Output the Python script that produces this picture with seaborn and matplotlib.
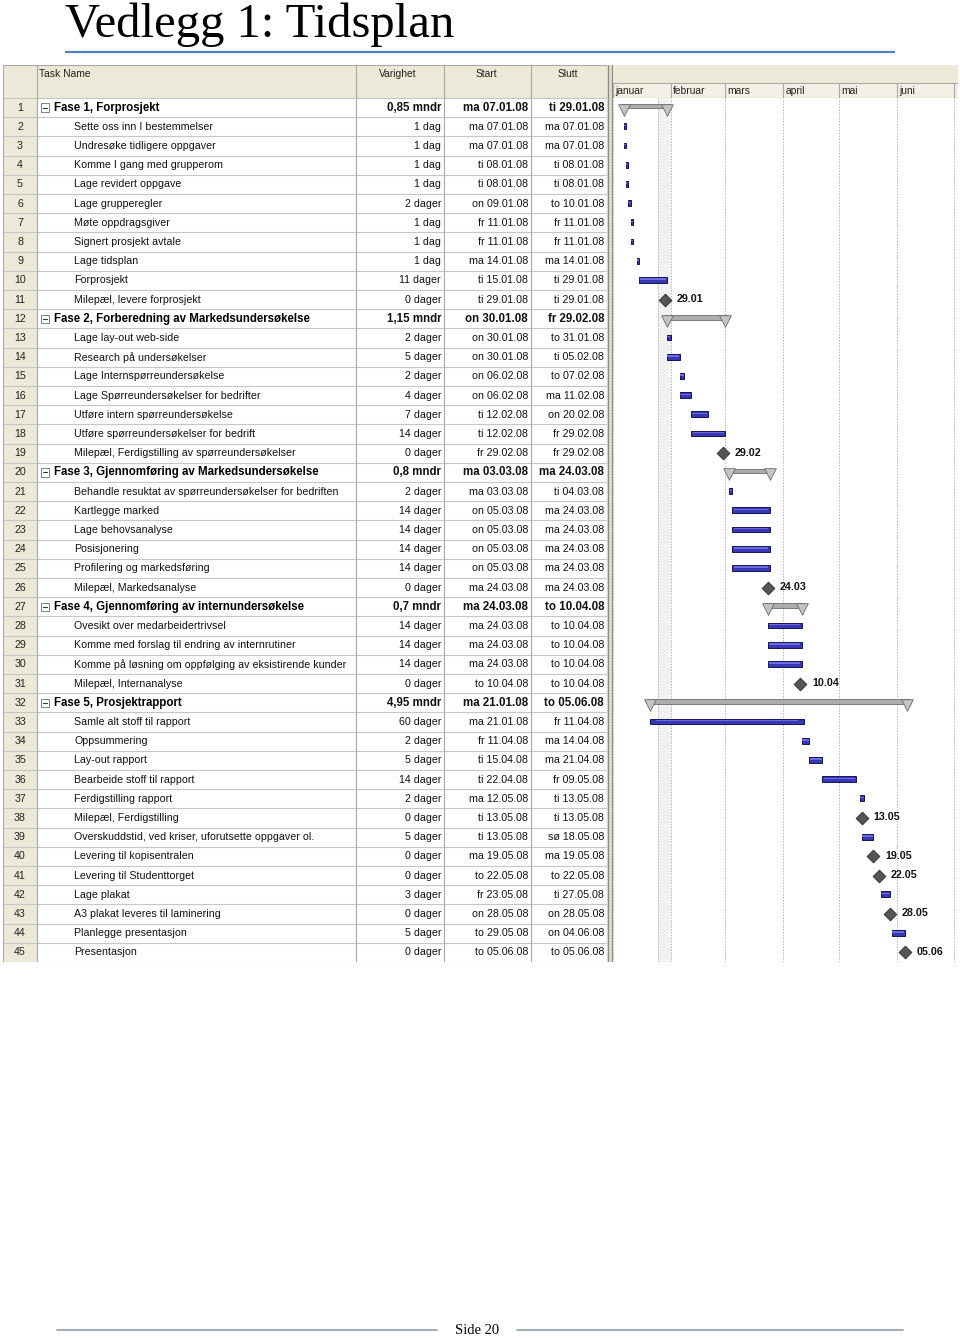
import matplotlib
matplotlib.use("Agg")
import matplotlib.pyplot as plt
import numpy as np
import pandas as pd
import seaborn as sns
from matplotlib.patches import Rectangle

# ---------------- data ----------------
title = "Vedlegg 1: Tidsplan"
page_label = "Side 20"
column_headers = ["Task Name", "Varighet", "Start", "Slutt"]
month_labels = ["januar", "februar", "mars", "april", "mai", "juni"]
month_starts = ["2008-01-01", "2008-02-01", "2008-03-01", "2008-04-01",
                "2008-05-01", "2008-06-01", "2008-07-01"]
status_band = ["2008-01-25", "2008-02-01"]

task_names = [
    "Fase 1, Forprosjekt",
    "Sette oss inn I bestemmelser",
    "Undresøke tidligere oppgaver",
    "Komme I gang med grupperom",
    "Lage revidert oppgave",
    "Lage grupperegler",
    "Møte oppdragsgiver",
    "Signert prosjekt avtale",
    "Lage tidsplan",
    "Forprosjekt",
    "Milepæl, levere forprosjekt",
    "Fase 2, Forberedning av Markedsundersøkelse",
    "Lage lay-out web-side",
    "Research på undersøkelser",
    "Lage Internspørreundersøkelse",
    "Lage Spørreundersøkelser for bedrifter",
    "Utføre intern spørreundersøkelse",
    "Utføre spørreundersøkelser for bedrift",
    "Milepæl, Ferdigstilling av spørreundersøkelser",
    "Fase 3, Gjennomføring av Markedsundersøkelse",
    "Behandle resuktat av spørreundersøkelser for bedriften",
    "Kartlegge marked",
    "Lage behovsanalyse",
    "Posisjonering",
    "Profilering og markedsføring",
    "Milepæl, Markedsanalyse",
    "Fase 4, Gjennomføring av internundersøkelse",
    "Ovesikt over medarbeidertrivsel",
    "Komme med forslag til endring av internrutiner",
    "Komme på løsning om oppfølging av eksistirende kunder",
    "Milepæl, Internanalyse",
    "Fase 5, Prosjektrapport",
    "Samle alt stoff til rapport",
    "Oppsummering",
    "Lay-out rapport",
    "Bearbeide stoff til rapport",
    "Ferdigstilling rapport",
    "Milepæl, Ferdigstilling",
    "Overskuddstid, ved kriser, uforutsette oppgaver ol.",
    "Levering til kopisentralen",
    "Levering til Studenttorget",
    "Lage plakat",
    "A3 plakat leveres til laminering",
    "Planlegge presentasjon",
    "Presentasjon",
]

durations = [
    "0,85 mndr", "1 dag", "1 dag", "1 dag", "1 dag", "2 dager", "1 dag", "1 dag",
    "1 dag", "11 dager", "0 dager",
    "1,15 mndr", "2 dager", "5 dager", "2 dager", "4 dager", "7 dager", "14 dager",
    "0 dager",
    "0,8 mndr", "2 dager", "14 dager", "14 dager", "14 dager", "14 dager", "0 dager",
    "0,7 mndr", "14 dager", "14 dager", "14 dager", "0 dager",
    "4,95 mndr", "60 dager", "2 dager", "5 dager", "14 dager", "2 dager", "0 dager",
    "5 dager", "0 dager", "0 dager", "3 dager", "0 dager", "5 dager", "0 dager",
]

start_dates = [
    "ma 07.01.08", "ma 07.01.08", "ma 07.01.08", "ti 08.01.08", "ti 08.01.08",
    "on 09.01.08", "fr 11.01.08", "fr 11.01.08", "ma 14.01.08", "ti 15.01.08",
    "ti 29.01.08",
    "on 30.01.08", "on 30.01.08", "on 30.01.08", "on 06.02.08", "on 06.02.08",
    "ti 12.02.08", "ti 12.02.08", "fr 29.02.08",
    "ma 03.03.08", "ma 03.03.08", "on 05.03.08", "on 05.03.08", "on 05.03.08",
    "on 05.03.08", "ma 24.03.08",
    "ma 24.03.08", "ma 24.03.08", "ma 24.03.08", "ma 24.03.08", "to 10.04.08",
    "ma 21.01.08", "ma 21.01.08", "fr 11.04.08", "ti 15.04.08", "ti 22.04.08",
    "ma 12.05.08", "ti 13.05.08", "ti 13.05.08", "ma 19.05.08", "to 22.05.08",
    "fr 23.05.08", "on 28.05.08", "to 29.05.08", "to 05.06.08",
]

finish_dates = [
    "ti 29.01.08", "ma 07.01.08", "ma 07.01.08", "ti 08.01.08", "ti 08.01.08",
    "to 10.01.08", "fr 11.01.08", "fr 11.01.08", "ma 14.01.08", "ti 29.01.08",
    "ti 29.01.08",
    "fr 29.02.08", "to 31.01.08", "ti 05.02.08", "to 07.02.08", "ma 11.02.08",
    "on 20.02.08", "fr 29.02.08", "fr 29.02.08",
    "ma 24.03.08", "ti 04.03.08", "ma 24.03.08", "ma 24.03.08", "ma 24.03.08",
    "ma 24.03.08", "ma 24.03.08",
    "to 10.04.08", "to 10.04.08", "to 10.04.08", "to 10.04.08", "to 10.04.08",
    "to 05.06.08", "fr 11.04.08", "ma 14.04.08", "ma 21.04.08", "fr 09.05.08",
    "ti 13.05.08", "ti 13.05.08", "sø 18.05.08", "ma 19.05.08", "to 22.05.08",
    "ti 27.05.08", "on 28.05.08", "on 04.06.08", "to 05.06.08",
]

# ---------------- derived table ----------------
origin = pd.Timestamp("2008-01-01")


def to_day(s):
    d = pd.to_datetime(s.split()[-1], format="%d.%m.%y")
    return (d - origin).days


def iso_day(s):
    return (pd.Timestamp(s) - origin).days


df = pd.DataFrame({
    "row": np.arange(1, len(task_names) + 1),
    "name": task_names,
    "dur": durations,
    "start_txt": start_dates,
    "finish_txt": finish_dates,
})
df["start"] = df["start_txt"].map(to_day)
df["end"] = df["finish_txt"].map(to_day) + 1
df["kind"] = np.where(df["dur"].str.contains("mndr"), "summary",
                      np.where(df["dur"].str.startswith("0 "), "milestone", "task"))
df["label"] = df["start_txt"].str.split().str[-1].str[:5]

# ---------------- figure / theme ----------------
sns.set_theme(style="white")
plt.rcParams["font.family"] = ["Liberation Sans", "DejaVu Sans"]

W, H, DPI = 960, 1338, 100
fig = plt.figure(figsize=(W / DPI, H / DPI), dpi=DPI)
fig.patch.set_facecolor("white")


def px_axes(x0, y0, x1, y1, z=1):
    ax = fig.add_axes([x0 / W, 1 - y1 / H, (x1 - x0) / W, (y1 - y0) / H], zorder=z)
    ax.set_axis_off()
    return ax


# page decoration axes (pixel coordinates)
page = px_axes(0, 0, W, H, z=0)
page.set_xlim(0, W)
page.set_ylim(H, 0)
page.text(65, 37, title, family=["Liberation Serif", "DejaVu Serif"], fontsize=35,
          ha="left", va="baseline", color="black")
page.plot([65, 895], [52, 52], color="#4f81bd", lw=1.6, solid_capstyle="butt")
page.text(477, 1330, page_label, family=["Liberation Serif", "DejaVu Serif"],
          fontsize=10.5, ha="center", va="center", color="black")
page.plot([57, 437], [1330, 1330], color="#98a6b4", lw=1.3)
page.plot([517, 903], [1330, 1330], color="#98a6b4", lw=1.3)

BEIGE = "#ece9d8"
GRID = "#c6c6c6"
ROW_PX = 19.2
HEADER_PX = 33
top = 0.5 - HEADER_PX / ROW_PX
n = len(df)

# ---------------- table ----------------
tab = px_axes(3, 65, 608, 962, z=2)
tab.set_xlim(3, 608)
tab.set_ylim(n + 0.5, top)
tab.add_patch(Rectangle((3, top), 605, 0.5 - top, facecolor=BEIGE, edgecolor="none"))
tab.add_patch(Rectangle((3, 0.5), 34, n, facecolor=BEIGE, edgecolor="none"))
for y in np.arange(0.5, n + 1.0, 1.0):
    tab.plot([3, 607], [y, y], color=GRID, lw=0.8)
for x in [3, 37, 356, 444, 531, 607]:
    tab.plot([x, x], [top, n + 0.5], color="#a8a8a8", lw=0.8)
tab.plot([3, 607], [top, top], color="#a8a8a8", lw=0.8)

hy = 0.5 - (98 - 74) / ROW_PX
tab.text(39, hy, column_headers[0], fontsize=7.4, ha="left", va="center", color="#222222")
tab.text(398, hy, column_headers[1], fontsize=7.4, ha="center", va="center", color="#222222")
tab.text(486, hy, column_headers[2], fontsize=7.4, ha="center", va="center", color="#222222")
tab.text(568, hy, column_headers[3], fontsize=7.4, ha="center", va="center", color="#222222")

for r in df.itertuples():
    y = r.row
    summary = r.kind == "summary"
    fw = "bold" if summary else "normal"
    fs = 8.3 if summary else 7.7
    tab.text(20, y, str(r.row), fontsize=7.7, ha="center", va="center", color="#222222")
    if summary:
        tab.add_patch(Rectangle((40.5, y - 0.22), 8.5, 0.44, facecolor="white",
                                edgecolor="#808080", lw=0.7))
        tab.plot([42.5, 47], [y, y], color="#333333", lw=0.8)
        tab.text(54, y, r.name, fontsize=fs, fontweight=fw, ha="left", va="center",
                 color="black")
    else:
        tab.text(74, y, r.name, fontsize=fs, ha="left", va="center", color="#111111")
    tab.text(441, y, r.dur, fontsize=fs, fontweight=fw, ha="right", va="center", color="#111111")
    tab.text(528, y, r.start_txt, fontsize=fs, fontweight=fw, ha="right", va="center",
             color="#111111")
    tab.text(604, y, r.finish_txt, fontsize=fs, fontweight=fw, ha="right", va="center",
             color="#111111")

# splitter between table and chart
split = px_axes(607, 65, 613, 962, z=2)
split.set_xlim(0, 1)
split.set_ylim(0, 1)
split.add_patch(Rectangle((0, 0), 1, 1, facecolor="#dedbcc", edgecolor="none"))
split.plot([0.1, 0.1], [0, 1], color="#8a8a8a", lw=0.8)
split.plot([0.9, 0.9], [0, 1], color="#8a8a8a", lw=0.8)

# ---------------- gantt ----------------
XMIN, XMAX = 0.26, 184.3
month_days = [iso_day(m) for m in month_starts]

# header
gh = px_axes(613, 65, 958, 98, z=2)
gh.set_xlim(XMIN, XMAX)
gh.set_ylim(0, 1)
gh.add_patch(Rectangle((XMIN, 0.455), XMAX - XMIN, 0.545, facecolor=BEIGE, edgecolor="none"))
gh.add_patch(Rectangle((XMIN, 0), XMAX - XMIN, 0.455, facecolor="#f3f1e6", edgecolor="none"))
gh.plot([XMIN, XMAX], [0.455, 0.455], color="#a8a8a8", lw=0.8)
gh.plot([XMIN, XMAX], [0.0, 0.0], color="#a8a8a8", lw=0.8)
for d in month_days:
    gh.plot([d, d], [0, 0.455], color="#a8a8a8", lw=0.8)
for lab, d in zip(month_labels, month_days):
    gh.text(max(d, XMIN) + 1.2, 0.2, lab, fontsize=7.4, ha="left", va="center",
            color="#222222")

# body
gx = px_axes(613, 98, 958, 962, z=2)
gx.set_xlim(XMIN, XMAX)
gx.set_ylim(n + 0.5, 0.5)
band = [iso_day(s) for s in status_band]
gx.axvspan(band[0], band[1], color="#f1f1f1", lw=0, zorder=0)
for d in [band[0]] + month_days:
    gx.axvline(d, color="#b4b4b4", lw=0.7, ls=(0, (1.5, 1.5)), zorder=0.5)

tasks = df[df["kind"] == "task"]
gx.barh(tasks["row"] - 0.03, tasks["end"] - tasks["start"], left=tasks["start"],
        height=0.3, color="#3838b4", edgecolor="#14145a", lw=0.7, zorder=3)
gx.barh(tasks["row"] - 0.07, (tasks["end"] - tasks["start"]) * 0.92,
        left=tasks["start"] + (tasks["end"] - tasks["start"]) * 0.04,
        height=0.07, color="#6c6ce0", lw=0, zorder=4)

summ = df[df["kind"] == "summary"]
gx.barh(summ["row"] - 0.08, summ["end"] - summ["start"] + 2.4, left=summ["start"] - 1.2,
        height=0.24, color="#acacac", edgecolor="#6e6e6e", lw=0.6, zorder=3)
tri = pd.DataFrame({
    "x": np.concatenate([summ["start"].values, summ["end"].values]),
    "y": np.concatenate([summ["row"].values, summ["row"].values]) + 0.1,
})
sns.scatterplot(data=tri, x="x", y="y", marker="v", s=70, color="#c4c4c4",
                edgecolor="#6a6a6a", linewidth=0.6, ax=gx, zorder=4, legend=False)

ms = df[df["kind"] == "milestone"]
sns.scatterplot(data=ms, x="start", y="row", marker="D", s=42, color="#555555",
                edgecolor="#2b2b2b", linewidth=0.6, ax=gx, zorder=5, legend=False)
for r in ms.itertuples():
    gx.annotate(r.label, (r.start, r.row), xytext=(8.6, 0.5), textcoords="offset points",
                fontsize=7.7, fontweight="bold", ha="left", va="center", color="#111111")
gx.set_axis_off()

fig.savefig("out.png", dpi=DPI, facecolor="white")
